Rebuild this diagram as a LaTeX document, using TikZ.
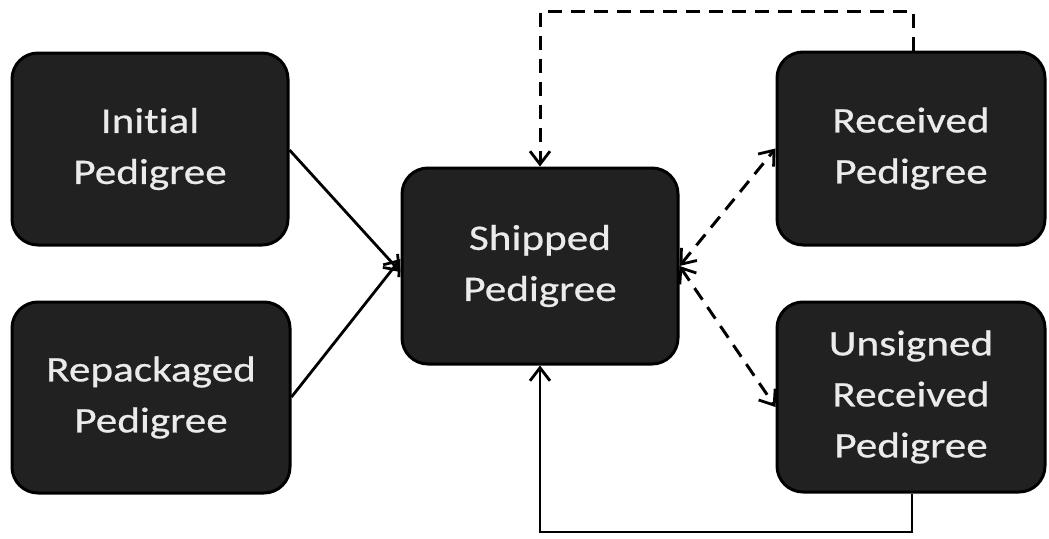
\documentclass[tikz,border=0pt]{standalone}
\usepackage{fontspec}
\setmainfont{Carlito}[FakeStretch=1.2, Ligatures=NoCommon, FakeBold=0.6]
\usetikzlibrary{arrows.meta}
\begin{document}
\begin{tikzpicture}[x=1pt,y=-1pt,
  stage/.style={draw=black, line width=3pt, fill=black!87, rounded corners=26pt,
    text=white!92!black, align=center, inner sep=0pt,
    font=\fontsize{36}{51}\selectfont},
  barb/.tip={Straight Barb[length=13pt,width=20pt,line width=2.8pt]},
  tip/.style={-barb},
  flow/.style={line width=2.8pt, tip},
  dashline/.style={line width=3pt, dash pattern=on 14pt off 9pt},
  twoway/.style={dashline, barb-barb}
]
\useasboundingbox (0,0) rectangle (1049,538);

% boxes
\node[stage, minimum width=276pt, minimum height=192pt] (init) at (150,149) {Initial\\Pedigree};
\node[stage, minimum width=278pt, minimum height=191pt] (repack) at (151,397.5) {Repackaged\\Pedigree};
\node[stage, minimum width=276pt, minimum height=196pt] (ship) at (540,266) {Shipped\\Pedigree};
\node[stage, minimum width=268pt, minimum height=193pt] (recv) at (911,148.5) {Received\\Pedigree};
\node[stage, minimum width=268pt, minimum height=190pt] (unsig) at (911,397) {Unsigned\\Received\\Pedigree};

% incoming pedigrees
\draw[flow] (init.east |- 0,150) -- ([yshift=-6pt]ship.west);
\draw[flow] (repack.east |- 0,397) -- ([yshift=7pt]ship.west);

% shipped <-> received / unsigned
\draw[twoway] (ship.east) -- (recv.west);
\draw[twoway] (ship.east) -- ([yshift=-10pt]unsig.west);

% return paths
\coordinate (topL) at (540,11);
\coordinate (topR) at (913,11);
\draw[dashline, tip] (recv.north -| topR) -- (topR) -- (topL) -- (ship.north);
\coordinate (botL) at (540,532);
\coordinate (botR) at (912,532);
\draw[flow] (unsig.south -| botR) -- (botR) -- (botL) -- (ship.south);
\end{tikzpicture}
\end{document}
